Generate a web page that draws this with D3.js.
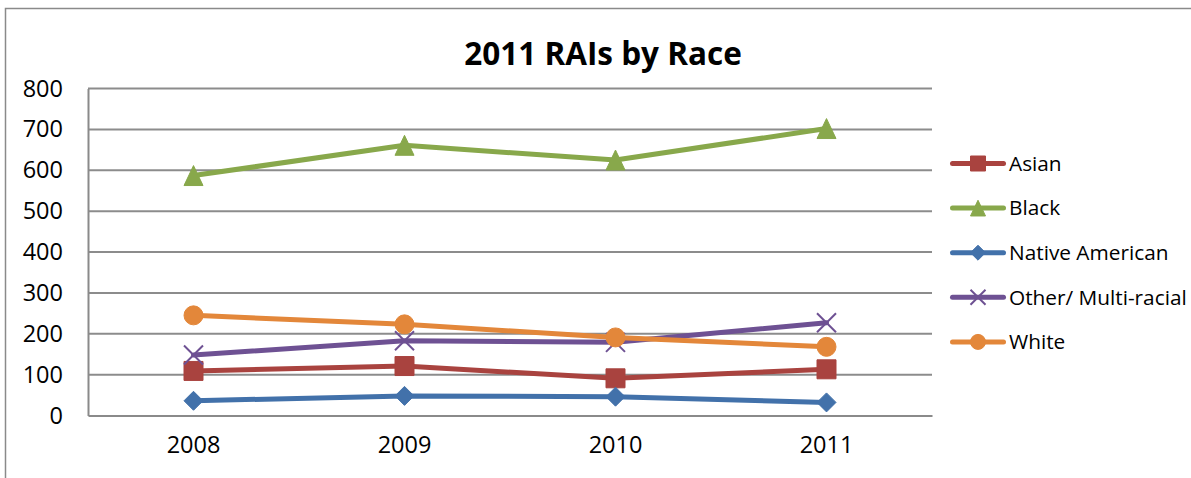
<!DOCTYPE html>
<html>
<head>
<meta charset="utf-8">
<script src="https://cdn.jsdelivr.net/npm/d3@7/dist/d3.min.js"></script>
<style>
  html, body { margin: 0; padding: 0; background: #fff; }
  svg { display: block; }
  text { font-family: "Open Sans", "Liberation Sans", sans-serif; fill: #000; }
</style>
</head>
<body>
<svg id="chart" width="1191" height="478"></svg>
<script>
// Yearly RAI values per race group
const years = ["2008", "2009", "2010", "2011"];
const asian = [109, 121, 91, 113];
const black = [587, 661, 625, 702];
const nativeAmerican = [36, 48, 46, 32];
const otherMulti = [148, 183, 179, 227];
const white = [245, 223, 191, 168];
const yTicks = [0, 100, 200, 300, 400, 500, 600, 700, 800];
const seriesNames = ["Asian", "Black", "Native American", "Other/ Multi-racial", "White"];

const series = [
  { name: seriesNames[0], values: asian, color: "#A9433F", shape: "square" },
  { name: seriesNames[1], values: black, color: "#88A84B", shape: "triangle" },
  { name: seriesNames[2], values: nativeAmerican, color: "#4271AA", shape: "diamond" },
  { name: seriesNames[3], values: otherMulti, color: "#6E5193", shape: "x" },
  { name: seriesNames[4], values: white, color: "#E3873A", shape: "circle" }
];

const svg = d3.select("#chart");
const plot = { left: 88, right: 932, top: 88.5, bottom: 415.5 };

// Outer chart frame
svg.append("rect")
  .attr("x", 5.5).attr("y", 8.5)
  .attr("width", 1300).attr("height", 600)
  .attr("fill", "none").attr("stroke", "#8a8a8a").attr("stroke-width", 1.5);

// Title
svg.append("text")
  .attr("x", 603).attr("y", 65)
  .attr("text-anchor", "middle")
  .attr("font-size", 31.5).attr("font-weight", "bold")
  .text("2011 RAIs by Race");

const x = d3.scaleBand().domain(years).range([plot.left, plot.right]);
const xc = d => x(d) + x.bandwidth() / 2;
const y = d3.scaleLinear().domain([0, 800]).range([plot.bottom, plot.top]);

// Horizontal gridlines
svg.append("g").selectAll("line").data(yTicks.filter(t => t > 0)).join("line")
  .attr("x1", plot.left).attr("x2", plot.right)
  .attr("y1", d => y(d)).attr("y2", d => y(d))
  .attr("stroke", "#8c8c8c").attr("stroke-width", 2);

// Y axis
const yAxis = svg.append("g")
  .attr("transform", `translate(${plot.left},0)`)
  .call(d3.axisLeft(y).tickValues(yTicks).tickSize(0).tickPadding(25).tickFormat(d3.format("d")));
yAxis.select(".domain").attr("stroke", "#8a8a8a").attr("stroke-width", 2);
yAxis.selectAll("text").attr("font-size", 23.5).attr("font-family", "Open Sans").attr("fill", "#000");

// X axis
const xAxis = svg.append("g")
  .attr("transform", `translate(0,${plot.bottom})`)
  .call(d3.axisBottom(x).tickSize(0).tickPadding(21));
xAxis.select(".domain").attr("stroke", "#8a8a8a").attr("stroke-width", 2);
xAxis.selectAll("text").attr("font-size", 23.5).attr("font-family", "Open Sans").attr("fill", "#000");

// Marker shape paths, centred at origin, s = full width
function shapePath(shape, s) {
  const h = s / 2;
  const p = d3.path();
  if (shape === "square") {
    p.rect(-h, -h, s, s);
  } else if (shape === "triangle") {
    p.moveTo(0, -h * 1.05); p.lineTo(h, h * 1.05); p.lineTo(-h, h * 1.05); p.closePath();
  } else if (shape === "diamond") {
    p.moveTo(0, -h); p.lineTo(h, 0); p.lineTo(0, h); p.lineTo(-h, 0); p.closePath();
  } else if (shape === "circle") {
    p.arc(0, 0, h, 0, 2 * Math.PI);
  } else if (shape === "x") {
    p.moveTo(-h, -h); p.lineTo(h, h); p.moveTo(h, -h); p.lineTo(-h, h);
  }
  return p.toString();
}

function drawMarker(g, shape, color, size) {
  const m = g.append("path").attr("d", shapePath(shape, size));
  if (shape === "x") {
    m.attr("fill", "none").attr("stroke", color).attr("stroke-width", 2);
  } else {
    m.attr("fill", color).attr("stroke", color).attr("stroke-width", 1);
  }
  return m;
}

const line = d3.line().x((d, i) => xc(years[i])).y(d => y(d));

series.forEach(s => {
  const g = svg.append("g");
  g.append("path")
    .attr("d", line(s.values))
    .attr("fill", "none").attr("stroke", s.color)
    .attr("stroke-width", 5).attr("stroke-linejoin", "round").attr("stroke-linecap", "round");
  s.values.forEach((v, i) => {
    const mg = g.append("g").attr("transform", `translate(${xc(years[i])},${y(v)})`);
    drawMarker(mg, s.shape, s.color, 19);
  });
});

// Legend
const legend = svg.append("g");
const legendTop = 163.5, legendStep = 44.6;
series.forEach((s, i) => {
  const ly = legendTop + i * legendStep;
  const lg = legend.append("g").attr("transform", `translate(0,${ly})`);
  lg.append("line").attr("x1", 952.5).attr("x2", 1003.5).attr("y1", 0).attr("y2", 0)
    .attr("stroke", s.color).attr("stroke-width", 5).attr("stroke-linecap", "round");
  const mg = lg.append("g").attr("transform", "translate(978,0)");
  drawMarker(mg, s.shape, s.color, 15);
  lg.append("text").attr("x", 1009).attr("y", 0).attr("dy", "0.35em")
    .attr("font-size", 20.8).text(s.name);
});
</script>
</body>
</html>
